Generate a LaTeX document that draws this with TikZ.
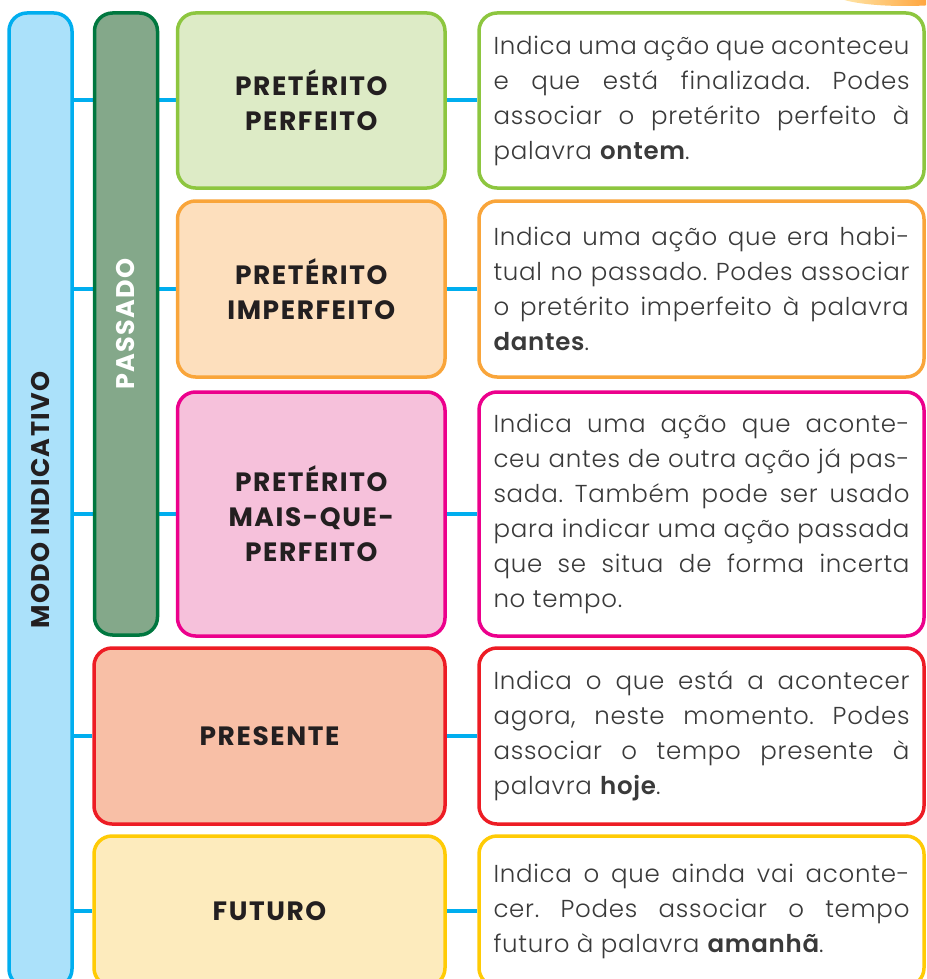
\documentclass[tikz,border=0pt]{standalone}
\usepackage{fontspec}
\setmainfont{Poppins}
\newfontfamily\bodyfont{Poppins Light}[LetterSpace=3, BoldFont={Poppins SemiBold}]
\newfontfamily\headfont{Poppins Bold}[LetterSpace=6]
\newfontfamily\sidefont{Poppins Bold}[LetterSpace=5]
\usetikzlibrary{backgrounds}
\definecolor{cyanline}{HTML}{00AEEF}
\definecolor{bluefill}{HTML}{ABE1FA}
\definecolor{dgreen}{HTML}{00773F}
\definecolor{dgreenfill}{HTML}{84A88A}
\definecolor{lgreen}{HTML}{8DC63F}
\definecolor{lgreenfill}{HTML}{DDEBC6}
\definecolor{orng}{HTML}{F9A53A}
\definecolor{orngfill}{HTML}{FDDFBD}
\definecolor{magen}{HTML}{EC008C}
\definecolor{magenfill}{HTML}{F6C1DB}
\definecolor{redc}{HTML}{ED1C24}
\definecolor{redfill}{HTML}{F8BFA6}
\definecolor{yell}{HTML}{FFCB05}
\definecolor{yellfill}{HTML}{FDEBBD}
\definecolor{txtdark}{HTML}{231F20}
\definecolor{txtgrey}{HTML}{3A3A3A}
\tikzset{
  boxbase/.style={draw, line width=3.5pt, rounded corners=18pt, inner sep=0pt},
  midbox/.style={boxbase, minimum width=267.5pt, align=center,
    font=\headfont\fontsize{26.5}{35}\selectfont, text=txtdark},
  widebox/.style={boxbase, minimum width=351pt, align=center,
    font=\headfont\fontsize{26.5}{35}\selectfont, text=txtdark},
  descbox/.style={boxbase, fill=white, minimum width=445pt, text width=416pt,
    align=justify, inner xsep=14.5pt,
    font=\bodyfont\fontsize{24.5}{35}\selectfont\frenchspacing, text=txtgrey},
  conn/.style={draw=cyanline, line width=4pt},
}
\begin{document}
\begin{tikzpicture}[x=1pt,y=-1pt]
\useasboundingbox (0,0) rectangle (926,979);
\clip (0,0) rectangle (926,979);
% decoration top right
\shade[left color=yellow!50!orange!30, right color=orange] (905,-6) ellipse [x radius=70, y radius=12];

% left bars
\node[boxbase, draw=cyanline, fill=bluefill, rotate=90, minimum width=974pt, minimum height=63pt,
  font=\sidefont\fontsize{25.5}{30}\selectfont, text=txtdark] (modo) at (40.5,500) {MODO INDICATIVO};
\node[boxbase, draw=dgreen, fill=dgreenfill, rotate=90, minimum width=622pt, minimum height=63pt,
  font=\sidefont\fontsize{25.5}{30}\selectfont, text=white] (passado) at (126,324) {PASSADO};

% middle boxes
\node[midbox, draw=lgreen, fill=lgreenfill, minimum height=175pt] (perf) at (311.25,100.5) {PRETÉRITO\\PERFEITO};
\node[midbox, draw=orng, fill=orngfill, minimum height=176pt] (imperf) at (311.25,289) {PRETÉRITO\\IMPERFEITO};
\node[midbox, draw=magen, fill=magenfill, minimum height=244pt] (mais) at (311.25,514) {PRETÉRITO\\MAIS-QUE-\\PERFEITO};
\node[widebox, draw=redc, fill=redfill, minimum height=176pt] (pres) at (269.5,736) {PRESENTE};
\node[widebox, draw=yell, fill=yellfill, minimum height=150pt] (fut) at (269.5,911) {FUTURO};

% description boxes
\node[descbox, draw=lgreen, minimum height=175pt] (dperf) at (701.5,100.5)
  {Indica uma ação que aconteceu\linebreak e que está finalizada. Podes\linebreak associar o pretérito perfeito à\linebreak palavra \textbf{ontem}.};
\node[descbox, draw=orng, minimum height=176pt] (dimperf) at (701.5,289)
  {Indica uma ação que era habi-\linebreak tual no passado. Podes associar\linebreak o pretérito imperfeito à palavra\linebreak \textbf{dantes}.};
\node[descbox, draw=magen, minimum height=244pt] (dmais) at (701.5,514)
  {Indica uma ação que aconte-\linebreak ceu antes de outra ação já pas-\linebreak sada. Também pode ser usado\linebreak para indicar uma ação passada\linebreak que se situa de forma incerta\linebreak no tempo.};
\node[descbox, draw=redc, minimum height=176pt] (dpres) at (701.5,736)
  {Indica o que está a acontecer\linebreak agora, neste momento. Podes\linebreak associar o tempo presente à\linebreak palavra \textbf{hoje}.};
\node[descbox, draw=yell, minimum height=150pt] (dfut) at (701.5,911)
  {Indica o que ainda vai aconte-\linebreak cer. Podes associar o tempo\linebreak futuro à palavra \textbf{amanhã}.};

% connectors
\begin{scope}[on background layer]
\draw[conn] (modo.south |- perf.west) -- (passado.north |- perf.west);
\draw[conn] (passado.south |- perf.west) -- (perf.west);
\draw[conn] (modo.south |- imperf.west) -- (passado.north |- imperf.west);
\draw[conn] (passado.south |- imperf.west) -- (imperf.west);
\draw[conn] (modo.south |- mais.west) -- (passado.north |- mais.west);
\draw[conn] (passado.south |- mais.west) -- (mais.west);
\draw[conn] (modo.south |- pres.west) -- (pres.west);
\draw[conn] (modo.south |- fut.west) -- (fut.west);
\draw[conn] (perf.east) -- (dperf.west);
\draw[conn] (imperf.east) -- (dimperf.west);
\draw[conn] (mais.east) -- (dmais.west);
\draw[conn] (pres.east) -- (dpres.west);
\draw[conn] (fut.east) -- (dfut.west);
\end{scope}
\end{tikzpicture}
\end{document}
